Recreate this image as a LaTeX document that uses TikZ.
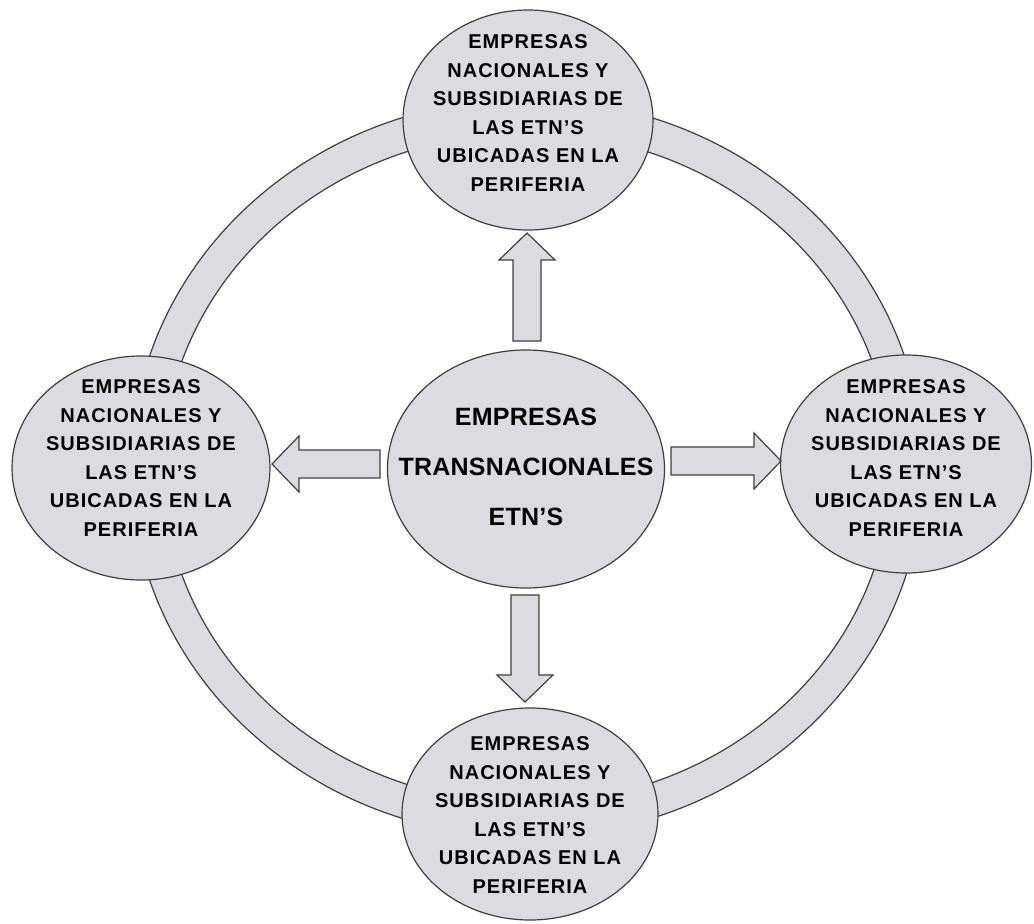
\documentclass[tikz,border=0pt]{standalone}
\usepackage{fontspec}
\setmainfont{Liberation Sans}
\newfontfamily\anillofont[LetterSpace=5]{Liberation Sans}
\newfontfamily\centrofont[LetterSpace=1]{Liberation Sans}
\usepackage{tikz}
\usetikzlibrary{calc,shapes.geometric}
\definecolor{ringfill}{HTML}{DCDBE0}
\definecolor{edgegray}{HTML}{3F3F3F}

\tikzset{
    empresa/.style={ellipse, draw=edgegray, fill=ringfill, line width=1.2pt, inner sep=0pt},
    periferia/.style={align=center, inner sep=0pt, text=black, font=\anillofont\fontsize{20pt}{28.5pt}\selectfont\bfseries},
    nucleo/.style={align=center, inner sep=0pt, text=black, font=\centrofont\fontsize{25pt}{50pt}\selectfont\bfseries},
    bloque/.style={draw=edgegray, fill=ringfill, line width=1.2pt, line join=miter,
        to path={
            ($(\tikztostart)!14pt!90:(\tikztotarget)$)
            -- ($($(\tikztotarget)!27pt!(\tikztostart)$)!14pt!-90:(\tikztostart)$)
            -- ($($(\tikztotarget)!27pt!(\tikztostart)$)!28pt!-90:(\tikztostart)$)
            -- (\tikztotarget)
            -- ($($(\tikztotarget)!27pt!(\tikztostart)$)!28pt!90:(\tikztostart)$)
            -- ($($(\tikztotarget)!27pt!(\tikztostart)$)!14pt!90:(\tikztostart)$)
            -- ($(\tikztostart)!14pt!-90:(\tikztotarget)$)
            -- cycle}}
}

\newcommand{\periftext}{EMPRESAS\\NACIONALES Y\\SUBSIDIARIAS DE\\LAS ETN’S\\UBICADAS EN LA\\PERIFERIA}

\begin{document}
\begin{tikzpicture}[x=1pt, y=-1pt]
    \useasboundingbox (0,0) rectangle (1034,924);

    % Ring joining the peripheral companies
    \coordinate (ringc) at (527,468);
    \fill[ringfill, even odd rule] (ringc) ellipse [x radius=396pt, y radius=369pt]
        (ringc) ellipse [x radius=364pt, y radius=335pt];
    \draw[edgegray, line width=1.2pt] (ringc) ellipse [x radius=396pt, y radius=369pt];
    \draw[edgegray, line width=1.2pt] (ringc) ellipse [x radius=364pt, y radius=335pt];

    % Ellipses
    \node[empresa, minimum width=277pt, minimum height=238pt] (etn) at (526,469) {};
    \node[empresa, minimum width=250pt, minimum height=220pt] (arriba) at (528,120) {};
    \node[empresa, minimum width=258pt, minimum height=224pt] (izquierda) at (141,468) {};
    \node[empresa, minimum width=251pt, minimum height=218pt] (derecha) at (906,464) {};
    \node[empresa, minimum width=256pt, minimum height=212pt] (abajo) at (530,814) {};

    % Texts
    \node[nucleo] (etnT) at (526,467) {EMPRESAS\\TRANSNACIONALES\\ETN’S};
    \node[periferia] (arribaT) at (528,113) {\periftext};
    \node[periferia] (izquierdaT) at (141,458) {\periftext};
    \node[periferia] (derechaT) at (906,458) {\periftext};
    \node[periferia] (abajoT) at (530,815) {\periftext};

    % Block arrows from the centre
    \coordinate (up0) at (527,341);
    \coordinate (up1) at (527,233);
    \coordinate (dn0) at (525,595);
    \coordinate (dn1) at (525,702);
    \coordinate (lf0) at (380,464);
    \coordinate (lf1) at (272,464);
    \coordinate (rt0) at (671,461);
    \coordinate (rt1) at (781,461);
    \draw[bloque] (up0) to (up1);
    \draw[bloque] (dn0) to (dn1);
    \draw[bloque] (lf0) to (lf1);
    \draw[bloque] (rt0) to (rt1);
\end{tikzpicture}
\end{document}
